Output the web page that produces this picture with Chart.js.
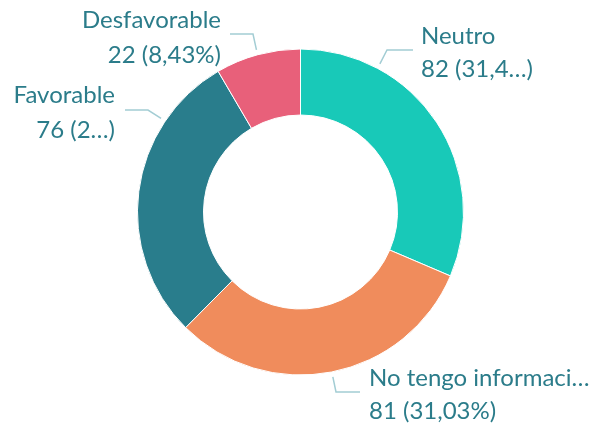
<!DOCTYPE html>
<html>
<head>
<meta charset="utf-8">
<script src="https://cdn.jsdelivr.net/npm/chart.js@4/dist/chart.umd.min.js"></script>
<style>
  html, body { margin: 0; padding: 0; background: #ffffff; }
  canvas { display: block; }
</style>
</head>
<body>
<canvas id="c" width="598" height="427"></canvas>
<script>
// ---- data ----
const categories = ['Neutro', 'No tengo información', 'Favorable', 'Desfavorable'];
const values = [82, 81, 76, 22];
// characters kept before an ellipsis (null = full text), as shown in the reference
const nameCut = [null, 18, null, null];
const pctCut = [4, null, 1, null];

// ---- styles ----
const colors = ['#18C9B8', '#F08C5C', '#297D8C', '#E8607A'];
const textColor = '#2B7C8A';
const leaderColor = '#A3CDD4';
const fontFamily = 'Lato, "Open Sans", sans-serif';
const fontSize = 24;

// label layout relative to the doughnut center (angle in degrees clockwise from top)
const labelLayout = [
  { angle: 28.2,  elbow: [86.5, -162],  end: [112.5, -162], tx: 120.5, align: 'left',  b1: -168, b2: -135 },
  { angle: 168.9, elbow: [35.5, 180],   end: [59.5, 180],   tx: 68.5,  align: 'left',  b1: 174,  b2: 207 },
  { angle: 303.9, elbow: [-152.5, -102],end: [-175.5, -102],tx: -185.5,align: 'right', b1: -109, b2: -74 },
  { angle: 344.8, elbow: [-47.5, -178], end: [-70.5, -178], tx: -79.5, align: 'right', b1: -184, b2: -149 }
];

const total = values.reduce((a, b) => a + b, 0);
function cut(s, n) { return n == null ? s : s.slice(0, n) + '…'; }
function valueText(i) {
  const pct = (values[i] / total * 100).toFixed(2).replace('.', ',') + '%';
  return values[i] + ' (' + cut(pct, pctCut[i]) + ')';
}

const labelPlugin = {
  id: 'outerLabels',
  afterDraw(chart) {
    const ctx = chart.ctx;
    const meta = chart.getDatasetMeta(0);
    const arc0 = meta.data[0];
    const cx = arc0.x, cy = arc0.y, R = arc0.outerRadius;
    ctx.save();
    labelLayout.forEach((L, i) => {
      const a = L.angle * Math.PI / 180;
      const r = R + 5;
      const sx = cx + r * Math.sin(a), sy = cy - r * Math.cos(a);
      ctx.strokeStyle = leaderColor;
      ctx.lineWidth = 1.5;
      ctx.beginPath();
      ctx.moveTo(sx, sy);
      ctx.lineTo(cx + L.elbow[0], cy + L.elbow[1]);
      ctx.lineTo(cx + L.end[0], cy + L.end[1]);
      ctx.stroke();
      ctx.fillStyle = textColor;
      ctx.font = fontSize + 'px ' + fontFamily;
      ctx.textAlign = L.align;
      ctx.textBaseline = 'alphabetic';
      ctx.fillText(cut(categories[i], nameCut[i]), cx + L.tx, cy + L.b1);
      ctx.fillText(valueText(i), cx + L.tx, cy + L.b2);
    });
    ctx.restore();
  }
};

new Chart(document.getElementById('c'), {
  type: 'doughnut',
  data: {
    labels: categories,
    datasets: [{
      data: values,
      backgroundColor: colors,
      borderColor: '#ffffff',
      borderWidth: 1
    }]
  },
  options: {
    responsive: false,
    animation: false,
    radius: 163,
    cutout: '59.5%',
    layout: { padding: { left: 3, right: 0, top: 0, bottom: 3 } },
    plugins: {
      legend: { display: false },
      tooltip: { enabled: false }
    }
  },
  plugins: [labelPlugin]
});
</script>
</body>
</html>
